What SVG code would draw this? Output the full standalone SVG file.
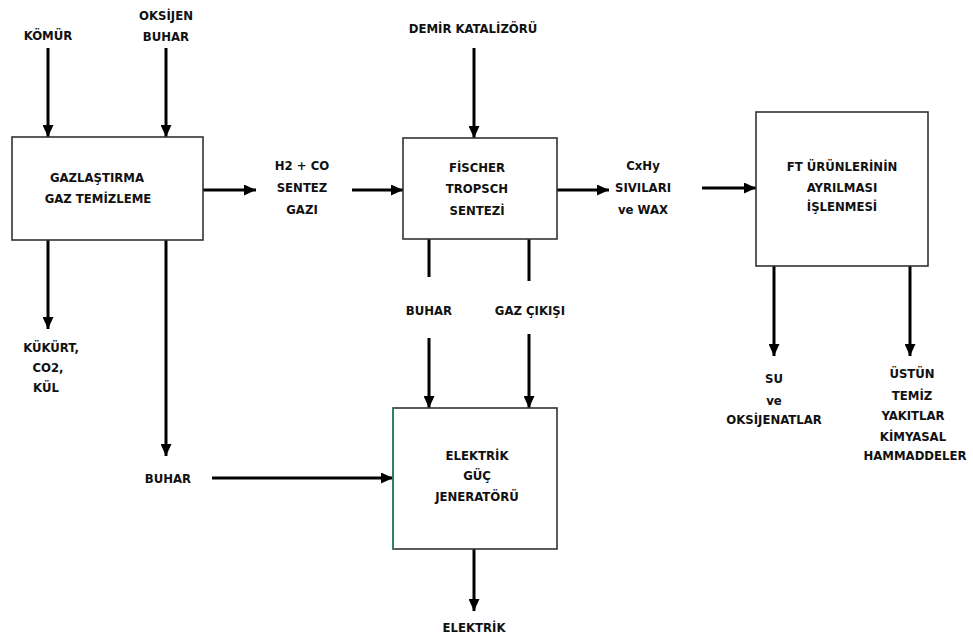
<svg xmlns="http://www.w3.org/2000/svg" width="973" height="639" viewBox="0 0 973 639">
<style>
text{font-family:"DejaVu Sans Condensed","DejaVu Sans",sans-serif;font-weight:bold;font-size:13px;fill:#111;text-anchor:middle}
.box{fill:#fff;stroke:#333;stroke-width:1.6}
.c{stroke:#000;stroke-width:3;fill:none}
.a{stroke:#000;stroke-width:3;fill:none;marker-end:url(#ah)}
</style>
<defs>
<marker id="ah" markerUnits="userSpaceOnUse" markerWidth="12" markerHeight="11" refX="12" refY="5.5" orient="auto">
<path d="M0,0 L12,5.5 L0,11 z" fill="#000"/>
</marker>
</defs>
<rect width="973" height="639" fill="#fff"/>
<g id="connectors">
<line class="a" x1="48" y1="48" x2="48" y2="137"/>
<line class="a" x1="166" y1="48" x2="166" y2="137"/>
<line class="a" x1="474" y1="48" x2="474" y2="138"/>
<line class="a" x1="203" y1="190" x2="256" y2="190"/>
<line class="a" x1="352" y1="190" x2="403" y2="190"/>
<line class="a" x1="557" y1="190" x2="609" y2="190"/>
<line class="a" x1="702" y1="188" x2="756" y2="188"/>
<line class="a" x1="48" y1="240" x2="48" y2="329"/>
<line class="a" x1="166" y1="240" x2="166" y2="456"/>
<line class="a" x1="212" y1="478" x2="393" y2="478"/>
<line class="c" x1="429" y1="239" x2="429" y2="277"/>
<line class="c" x1="529" y1="239" x2="529" y2="281"/>
<line class="a" x1="429" y1="338" x2="429" y2="408"/>
<line class="a" x1="529" y1="334" x2="529" y2="408"/>
<line class="a" x1="474" y1="549" x2="474" y2="611"/>
<line class="a" x1="774" y1="266" x2="774" y2="356"/>
<line class="a" x1="910" y1="266" x2="910" y2="356"/>
</g>
<g id="komur"><text x="48" y="40">KÖMÜR</text></g>
<g id="oksijen"><text x="166" y="20">OKSİJEN</text><text x="166" y="41">BUHAR</text></g>
<g id="demir"><text x="473" y="33">DEMİR KATALİZÖRÜ</text></g>
<g id="gazlastirma">
<rect class="box" x="12" y="137" width="191" height="103"/>
<text x="97" y="182">GAZLAŞTIRMA</text>
<text x="98" y="203">GAZ TEMİZLEME</text>
</g>
<g id="sentezgazi"><text x="302" y="170">H2 + CO</text><text x="302" y="192">SENTEZ</text><text x="302" y="214">GAZI</text></g>
<g id="fischer">
<rect class="box" x="403" y="138" width="154" height="101"/>
<text x="477" y="172">FİSCHER</text>
<text x="477" y="193">TROPSCH</text>
<text x="477" y="215">SENTEZİ</text>
</g>
<g id="cxhy"><text x="643" y="170">CxHy</text><text x="643" y="192">SIVILARI</text><text x="643" y="214">ve WAX</text></g>
<g id="ft">
<rect class="box" x="756" y="112" width="172" height="154"/>
<text x="842" y="171">FT ÜRÜNLERİNİN</text>
<text x="842" y="192">AYRILMASI</text>
<text x="842" y="211">İŞLENMESİ</text>
</g>
<g id="kukurt"><text x="51" y="352">KÜKÜRT,</text><text x="48" y="372">CO2,</text><text x="46" y="392">KÜL</text></g>
<g id="buhar1"><text x="168" y="483">BUHAR</text></g>
<g id="buhar2"><text x="429" y="315">BUHAR</text></g>
<g id="gazcikisi"><text x="530" y="315">GAZ ÇIKIŞI</text></g>
<g id="jenerator">
<rect class="box" x="393" y="408" width="164" height="141"/>
<line x1="393" y1="408" x2="393" y2="549" stroke="#2a8a6a" stroke-width="1.6"/>
<text x="477" y="460">ELEKTRİK</text>
<text x="477" y="480">GÜÇ</text>
<text x="477" y="501">JENERATÖRÜ</text>
</g>
<g id="elektrik"><text x="474" y="632">ELEKTRİK</text></g>
<g id="su"><text x="774" y="383">SU</text><text x="774" y="405">ve</text><text x="774" y="424">OKSİJENATLAR</text></g>
<g id="ustun"><text x="912" y="378">ÜSTÜN</text><text x="912" y="400">TEMİZ</text><text x="913" y="420">YAKITLAR</text><text x="913" y="441">KİMYASAL</text><text x="915" y="460">HAMMADDELER</text></g>
</svg>
